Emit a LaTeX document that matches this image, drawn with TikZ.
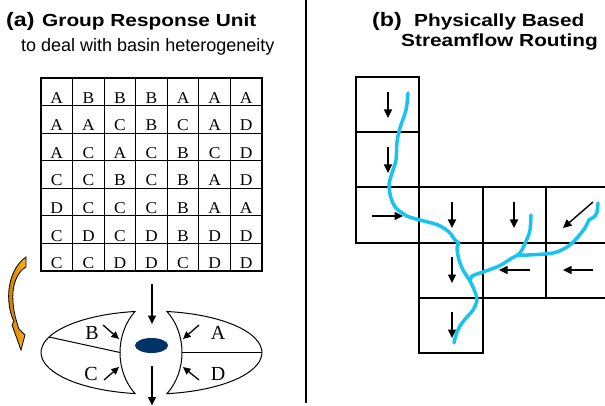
\documentclass[tikz,border=0pt]{standalone}
\usepackage{fontspec}
\setmainfont{Liberation Serif}
\newfontfamily\gridf{Liberation Serif}[FakeStretch=1.06]
\newfontfamily\sansf{Liberation Sans}
\newfontfamily\titlef{Liberation Sans}[FakeStretch=1.19]
\usetikzlibrary{arrows.meta}
\definecolor{river}{RGB}{25,195,240}
\definecolor{navyblob}{RGB}{0,51,102}
\definecolor{orangeA}{RGB}{205,120,0}
\definecolor{orangeB}{RGB}{255,175,30}
\begin{document}
\begin{tikzpicture}[x=1pt,y=-1pt,
  arr/.style={line width=1.4pt,-{Triangle[length=8.5pt,width=8pt]}},
  sarr/.style={line width=1.3pt,-{Triangle[length=7.5pt,width=7pt]}},
  cell/.style={line width=1.8pt},
  glet/.style={inner sep=0pt,anchor=base,font=\gridf\fontsize{16.5}{18}\selectfont},
  blet/.style={inner sep=0pt,font=\fontsize{20}{22}\selectfont},
  ttl/.style={inner sep=0pt,anchor=base west,font=\titlef\bfseries\fontsize{17.5}{20}\selectfont},
  tag/.style={inner sep=0pt,anchor=base west,font=\titlef\bfseries\fontsize{19.5}{22}\selectfont},
  riv/.style={river,line width=3.5pt,line cap=round,line join=round}]
\useasboundingbox (0,0) rectangle (605,406);

% titles
\node[tag] (ta) at (6,26.5) {(a)};
\node[ttl] (t1) at (42,27) {Group Response Unit};
\node[inner sep=0pt,anchor=base west,font=\sansf\fontsize{18}{20}\selectfont] (t2) at (21,51.7) {to deal with basin heterogeneity};
\node[tag] (tb) at (372,26.5) {(b)};
\node[ttl] (t3) at (414,27) {Physically Based};
\node[ttl] (t4) at (401,47) {Streamflow Routing};

% divider
\draw[line width=2pt] (305.5,0) -- (305.5,403);

% grid
\foreach \i in {1,...,6} {
  \draw[line width=0.9pt] ({41+\i*31.571},78) -- ({41+\i*31.571},271);
  \draw[line width=0.9pt] (41,{78+\i*27.571}) -- (262,{78+\i*27.571});
}
\draw[line width=2.4pt] (41,78) rectangle (262,271);
\foreach \r/\letters in {1/{A,B,B,B,A,A,A},2/{A,A,C,B,C,A,D},3/{A,C,A,C,B,C,D},4/{C,C,B,C,B,A,D},5/{D,C,C,C,B,A,A},6/{C,D,C,D,B,D,D},7/{C,C,D,D,C,D,D}} {
  \foreach \L [count=\c] in \letters {
    \node[glet] (g\r\c) at ({41+(\c-0.5)*31.571},{78+\r*27.571-2.3}) {\L};
  }
}

% orange curved arrow
\draw[line width=0.8pt, left color=orangeA, right color=orangeB]
  (26,257) .. controls (13,266) and (7,285) .. (9,303)
  .. controls (10,312) and (12,318) .. (14,321)
  -- (12,325) -- (21,350) -- (25,335) -- (19,329)
  .. controls (15,318) and (12,305) .. (13,292)
  .. controls (14,280) and (19,271) .. (26,267) -- cycle;

% lobes
\draw[line width=1pt] (135,311.5) arc[start angle=261.4, end angle=98.6, x radius=110.5, y radius=41.5]
  .. controls (115,371) and (115,334) .. cycle;
\draw[line width=1pt] (167,311.5) arc[start angle=-81.9, end angle=81.9, x radius=110.5, y radius=41.5]
  .. controls (187,371) and (187,334) .. cycle;
\draw[line width=1pt] (49,337) -- (120,352.5);
\draw[line width=1pt] (182,352.5) -- (262,352.5);
\fill[navyblob] (151.5,345.5) ellipse[x radius=16.5, y radius=7.5];
\node[blet] (lb) at (92,332.5) {B};
\node[blet] (lc) at (91,373.5) {C};
\node[blet] (la) at (218,332.5) {A};
\node[blet] (ld) at (218,373.5) {D};
\draw[arr] (152,284) -- (152,324);
\draw[arr] (152,366) -- (152,405.5);
\draw[sarr] (103,325) -- (119,339);
\draw[sarr] (104,380) -- (119,367);
\draw[sarr] (199,325) -- (183,339);
\draw[sarr] (199,380) -- (183,367);

% right panel cells
\draw[cell] (356,77) rectangle (419,132);
\draw[cell] (356,132) rectangle (419,187);
\draw[cell] (356,187) rectangle (419,243);
\draw[cell] (419,187) rectangle (483,243);
\draw[cell] (483,187) rectangle (546,243);
\draw[cell] (546,187) rectangle (609,243);
\draw[cell] (419,243) rectangle (483,298);
\draw[cell] (483,243) rectangle (546,298);
\draw[cell] (546,243) rectangle (609,298);
\draw[cell] (419,298) rectangle (483,353);

% flow arrows
\draw[arr] (388,92) -- (388,118);
\draw[arr] (388,147) -- (388,173);
\draw[arr] (372,216) -- (403,216);
\draw[arr] (452,202) -- (452,228);
\draw[arr] (514,202) -- (514,228);
\draw[arr] (593,202) -- (563,228);
\draw[arr] (452,257) -- (452,283);
\draw[arr] (530,270) -- (499,270);
\draw[arr] (593,270) -- (563,270);
\draw[arr] (452,312) -- (452,338);

% river
\draw[riv] plot[smooth,tension=0.55] coordinates {(408,93) (406,110) (400,128) (397,142) (396,160) (392,173) (389,185) (391,198) (396,208) (407,216) (420,220) (438,225) (449,232) (455,240) (459,243)};
\draw[riv] plot[smooth,tension=0.55] coordinates {(459,243) (457,248) (459,260) (463,270) (470,281) (475,292) (477,300) (473,310) (466,318) (460,326) (456,335) (454,343)};
\draw[riv] plot[smooth,tension=0.55] coordinates {(470,281) (472,276) (480,273) (499,266) (512,258) (520,253) (527,239) (530,230) (531,215)};
\draw[riv] plot[smooth,tension=0.55] coordinates {(518,255) (528,255) (553,253) (567,247) (576,239) (585,228) (589,220) (594,217) (597,212) (598,203)};
\end{tikzpicture}
\end{document}
